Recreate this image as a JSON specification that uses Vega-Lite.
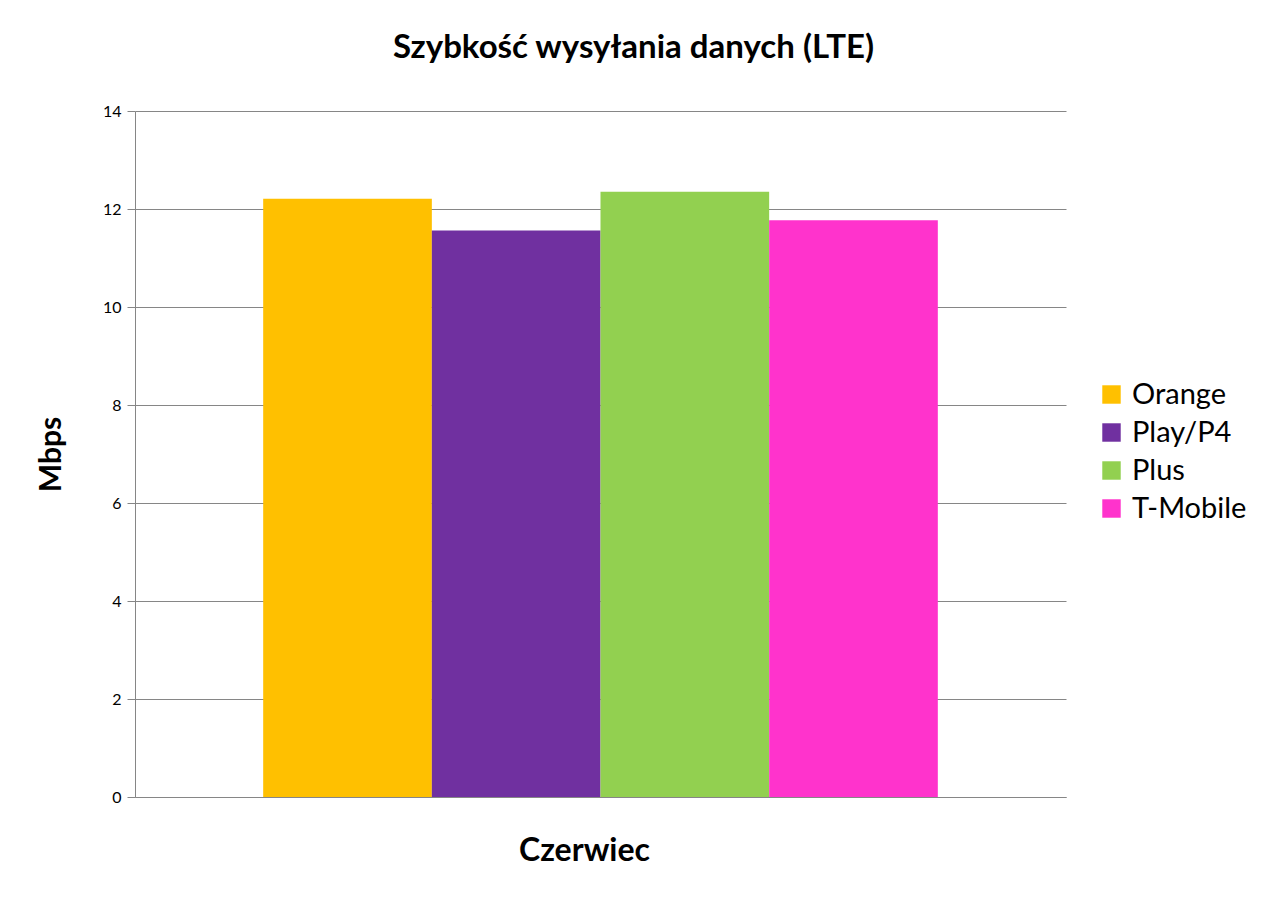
{
  "$schema": "https://vega.github.io/schema/vega-lite/v6.json",
  "description": "Szybkość wysyłania danych (LTE) - grouped bar chart",
  "autosize": "none",
  "width": 931,
  "height": 686,
  "padding": {"left": 135, "top": 111, "right": 202, "bottom": 110},
  "background": "white",
  "title": {
    "text": "Szybkość wysyłania danych (LTE)",
    "font": "Lato",
    "fontSize": 33,
    "fontWeight": "bold",
    "color": "black",
    "anchor": "middle",
    "offset": 38,
    "dx": 33
  },
  "data": {
    "values": [
      {"miesiac": "Czerwiec", "operator": "Orange", "mbps": 12.21},
      {"miesiac": "Czerwiec", "operator": "Play/P4", "mbps": 11.56},
      {"miesiac": "Czerwiec", "operator": "Plus", "mbps": 12.35},
      {"miesiac": "Czerwiec", "operator": "T-Mobile", "mbps": 11.77}
    ]
  },
  "mark": {"type": "bar"},
  "encoding": {
    "x": {
      "field": "miesiac",
      "type": "nominal",
      "scale": {"paddingInner": 0, "paddingOuter": 0.19},
      "axis": {
        "title": null,
        "labelAngle": 0,
        "labelFont": "Lato",
        "labelFontSize": 32,
        "labelFontWeight": "bold",
        "labelColor": "black",
        "labelPadding": 38,
        "labelOffset": -16,
        "ticks": false,
        "grid": false,
        "domainColor": "#868686"
      }
    },
    "xOffset": {
      "field": "operator",
      "type": "nominal",
      "sort": ["Orange", "Play/P4", "Plus", "T-Mobile"],
      "scale": {"paddingInner": 0, "paddingOuter": 0}
    },
    "y": {
      "field": "mbps",
      "type": "quantitative",
      "scale": {"domain": [0, 14], "nice": false},
      "axis": {
        "title": "Mbps",
        "titleFont": "Lato",
        "titleFontSize": 30,
        "titleFontWeight": "bold",
        "titleColor": "black",
        "titlePadding": 36,
        "values": [0, 2, 4, 6, 8, 10, 12, 14],
        "labelFont": "Lato",
        "labelFontSize": 16,
        "labelColor": "black",
        "labelPadding": 6,
        "tickSize": 8,
        "tickColor": "#868686",
        "domainColor": "#868686",
        "gridColor": "#868686",
        "gridWidth": 1
      }
    },
    "color": {
      "field": "operator",
      "type": "nominal",
      "sort": ["Orange", "Play/P4", "Plus", "T-Mobile"],
      "scale": {
        "domain": ["Orange", "Play/P4", "Plus", "T-Mobile"],
        "range": ["#FFC000", "#7030A0", "#92D050", "#FF33CC"]
      },
      "legend": {
        "title": null,
        "orient": "none",
        "legendX": 962,
        "legendY": 269,
        "symbolType": "square",
        "symbolSize": 340,
        "symbolStrokeWidth": 0,
        "labelFont": "Lato",
        "labelFontSize": 29,
        "labelColor": "black",
        "labelOffset": 6,
        "rowPadding": 8
      }
    }
  },
  "config": {
    "view": {"stroke": null},
    "axis": {"gridColor": "#868686"}
  }
}
